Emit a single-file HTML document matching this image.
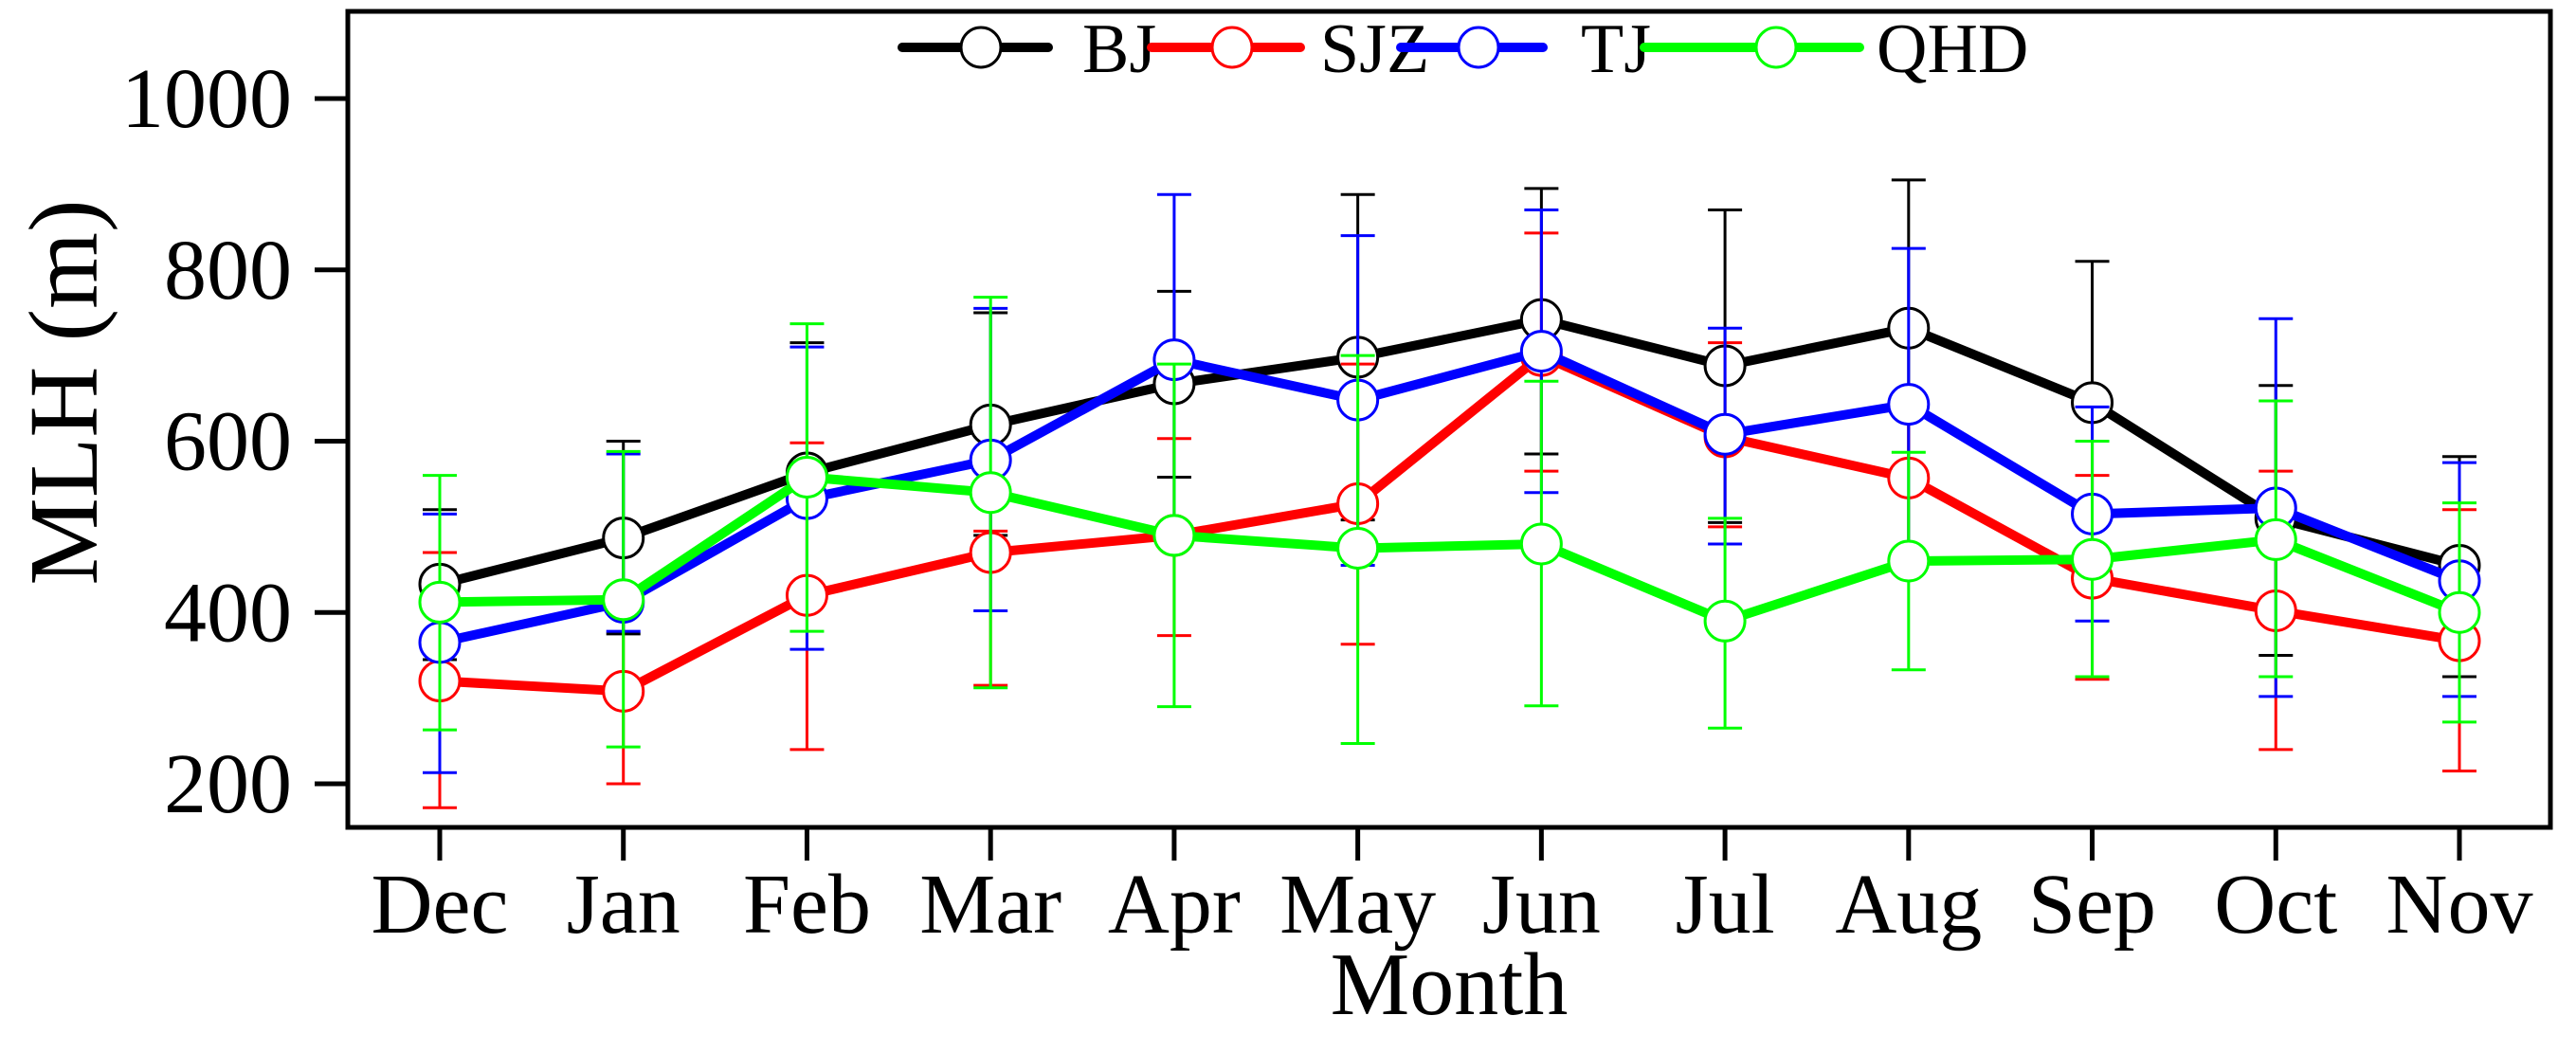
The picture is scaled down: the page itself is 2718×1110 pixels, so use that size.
<!DOCTYPE html>
<html><head><meta charset="utf-8"><style>
html,body{margin:0;padding:0;background:#fff;}
svg{display:block;}
text{font-family:"Liberation Serif",serif;fill:#000;}
</style></head><body>
<svg id="chart" width="2718" height="1110" viewBox="0 0 2718 1110" xmlns="http://www.w3.org/2000/svg">
<g id="layer"></g>
</svg>
<script>
const months = ["Dec","Jan","Feb","Mar","Apr","May","Jun","Jul","Aug","Sep","Oct","Nov"];
const yTicks = [200,400,600,800,1000];
const seriesNames = ["BJ","SJZ","TJ","QHD"];
const seriesColors = ["#000000","#ff0000","#0000ff","#00ff00"];
const bjMean = [433,487,563,619,667,698,742,688,732,645,510,455];
const bjUpper = [520,600,715,750,775,888,895,870,905,810,665,582];
const bjLower = [345,375,410,490,558,508,585,505,558,470,350,325];
const sjzMean = [320,308,420,470,490,527,700,605,557,440,402,367];
const sjzUpper = [470,420,598,495,603,690,843,715,650,560,565,520];
const sjzLower = [172,200,240,315,373,363,565,500,465,322,240,215];
const tjMean = [365,412,533,578,695,648,705,608,643,515,522,437];
const tjUpper = [515,585,710,755,888,840,870,732,825,640,743,575];
const tjLower = [213,378,357,402,490,455,540,480,460,390,302,302];
const qhdMean = [412,415,558,540,490,475,480,390,460,462,485,400];
const qhdUpper = [560,588,737,768,690,700,670,510,587,600,647,528];
const qhdLower = [263,243,378,312,290,247,291,265,333,325,325,272];

const NS="http://www.w3.org/2000/svg";
const layer=document.getElementById('layer');
function xPos(i){return 464+i*(2595-464)/11;}
function yPos(v){return 827-(v-200)*(827-104)/800;}
function mk(tag,attrs){const e=document.createElementNS(NS,tag);for(const k in attrs)e.setAttribute(k,attrs[k]);layer.appendChild(e);return e;}

let box=mk('rect',{x:367,y:12,width:2324,height:861,fill:'none',stroke:'#000','stroke-width':5});


yTicks.forEach(v=>{
  const t=mk('line',{x1:332,x2:367,y1:yPos(v),y2:yPos(v),stroke:'#000','stroke-width':5});
  
  
  const l=mk('text',{x:308,y:yPos(v)+30,'text-anchor':'end','font-size':90,'font-family':'Liberation Serif, serif'});
  l.textContent=v;
  
  
});
months.forEach((m,i)=>{
  const t=mk('line',{x1:xPos(i),x2:xPos(i),y1:873,y2:908,stroke:'#000','stroke-width':5});
  
  
  const l=mk('text',{x:xPos(i),y:984,'text-anchor':'middle','font-size':90,'font-family':'Liberation Serif, serif'});
  l.textContent=m;
  
  
});
let xt=mk('text',{x:1529,y:1070,'text-anchor':'middle','font-size':94,'font-family':'Liberation Serif, serif'});
xt.textContent='Month';


let yt=mk('text',{x:0,y:0,'text-anchor':'middle','font-size':104,'font-family':'Liberation Serif, serif',transform:'translate(102,414) rotate(-90)'});
yt.textContent='MLH (m)';



const means=[bjMean,sjzMean,tjMean,qhdMean];
const ups=[bjUpper,sjzUpper,tjUpper,qhdUpper];
const lows=[bjLower,sjzLower,tjLower,qhdLower];
means.forEach((mean,s)=>{
  const c=seriesColors[s];
  mean.forEach((v,i)=>{
    const x=xPos(i);
    const e=mk('path',{d:`M${x},${yPos(ups[s][i])}V${yPos(lows[s][i])}M${x-18},${yPos(ups[s][i])}h36M${x-18},${yPos(lows[s][i])}h36`,stroke:c,'stroke-width':3,fill:'none'});
    
    
  });
  const pts=mean.map((v,i)=>xPos(i)+','+yPos(v)).join(' ');
  const pl=mk('polyline',{points:pts,fill:'none',stroke:c,'stroke-width':10,'stroke-linejoin':'round'});
  
  
  mean.forEach((v,i)=>{
    const p=mk('circle',{cx:xPos(i),cy:yPos(v),r:21,fill:'#fff',stroke:c,'stroke-width':3});
    
    
  });
});
const legLine=[[952,1106,1035,1142],[1215,1372,1300,1393],[1478,1628,1560,1668],[1735,1962,1874,1980]];
seriesNames.forEach((n,s)=>{
  const L=legLine[s];
  const g=mk('line',{x1:L[0],x2:L[1],y1:50,y2:50,stroke:seriesColors[s],'stroke-width':10,'stroke-linecap':'round'});
  
  
  const c=mk('circle',{cx:L[2],cy:50,r:21,fill:'#fff',stroke:seriesColors[s],'stroke-width':3});
  
  
  const t=mk('text',{x:L[3],y:76,'font-size':74,'font-family':'Liberation Serif, serif'});
  t.textContent=n;
  
  
});
</script>
</body></html>
